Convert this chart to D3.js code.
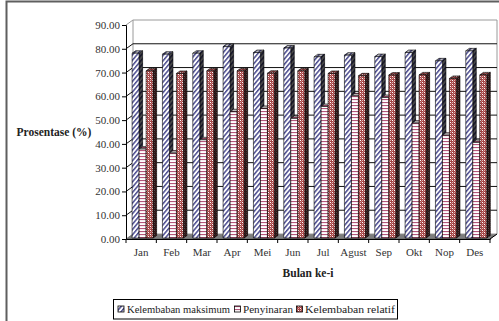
<!DOCTYPE html>
<html><head><meta charset="utf-8">
<script src="https://cdn.jsdelivr.net/npm/d3@7"></script>
<style>
html,body{margin:0;padding:0;background:#fff;}
svg{display:block;font-family:"Liberation Serif","Times New Roman",serif;}
</style></head>
<body>
<svg id="chart" width="499" height="321"></svg>
<script>
const months = ["Jan","Feb","Mar","Apr","Mei","Jun","Jul","Agust","Sep","Okt","Nop","Des"];
const seriesNames = ["Kelembaban maksimum","Penyinaran","Kelembaban relatif"];
const kelembabanMaksimum = [77.7,77.3,77.7,80.5,78.0,79.9,76.2,76.9,76.3,78.0,74.5,78.7];
const penyinaran = [37.4,35.7,41.3,53.1,54.5,50.3,55.3,59.8,59.1,48.3,43.2,40.2];
const kelembabanRelatif = [70.3,69.2,70.3,70.3,69.3,70.3,69.2,68.2,68.5,68.6,67.1,68.6];
const yTicks = [0,10,20,30,40,50,60,70,80,90];

const seriesValues = [kelembabanMaksimum, penyinaran, kelembabanRelatif];
const svg = d3.select("#chart");
const defs = svg.append("defs");

// patterns
const pBlue = defs.append("pattern").attr("id","pBlue").attr("patternUnits","userSpaceOnUse")
  .attr("width",3.4).attr("height",3.4).attr("patternTransform","rotate(40)");
pBlue.append("rect").attr("width",3.4).attr("height",3.4).attr("fill","#fff");
pBlue.append("rect").attr("width",1.5).attr("height",3.4).attr("fill","#4a4a8e");

const pPink = defs.append("pattern").attr("id","pPink").attr("patternUnits","userSpaceOnUse")
  .attr("width",4).attr("height",3);
pPink.append("rect").attr("width",4).attr("height",3).attr("fill","#fff");
pPink.append("rect").attr("width",4).attr("height",1.1).attr("fill","#b4557a");

const pBrown = defs.append("pattern").attr("id","pBrown").attr("patternUnits","userSpaceOnUse")
  .attr("width",4).attr("height",4);
pBrown.append("rect").attr("width",4).attr("height",4).attr("fill","#a34646");
[[0,0,"#fff"],[2,2,"#fff"],[2,0,"#e3b0b0"],[0,2,"#e3b0b0"],[1,1,"#c77878"],[3,3,"#c77878"]].forEach(([px,py,c])=>
  pBrown.append("rect").attr("x",px).attr("y",py).attr("width",1).attr("height",1).attr("fill",c));

const fills = ["url(#pBlue)","url(#pPink)","url(#pBrown)"];

// geometry
const x0 = 126, x1 = 490;
const x = d3.scaleBand().domain(months).range([x0, x1]);
const y = d3.scaleLinear().domain([0,90]).range([239,25]);
const DX = 7, DY = -5; // back wall depth offset
const P = (px,py,d)=>[px + d*DX, py + d*DY];
const step = x.step();
const inner = d3.scaleBand().domain(seriesNames).range([0.155*step, 0.155*step + 0.693*step]);
const dFront = 0.2, dBack = 0.7;
const pts = a=>a.map(p=>p.join(",")).join(" ");

// outer frame
svg.append("path").attr("d","M6.5,321 V1.5 H499").attr("fill","none").attr("stroke","#5f5f5f").attr("stroke-width",2);

// floor
svg.append("polygon").attr("points",pts([P(x0,y(0),0),P(x1,y(0),0),P(x1,y(0),1),P(x0,y(0),1)]))
  .attr("fill","#7d7d7d").attr("stroke","#555").attr("stroke-width",0.6);

// back wall
svg.append("polygon").attr("points",pts([P(x0,y(90),1),P(x1,y(90),1),P(x1,y(0),1),P(x0,y(0),1)]))
  .attr("fill","#fff").attr("stroke","#9a9a9a").attr("stroke-width",1);
svg.append("line").attr("x1",P(x0,y(90),1)[0]).attr("y1",P(x0,y(90),1)[1]).attr("x2",P(x0,y(90),0)[0]).attr("y2",P(x0,y(90),0)[1]).attr("stroke","#9a9a9a");

// gridlines
yTicks.filter(t=>t>0 && t<90).forEach(t=>{
  svg.append("polyline").attr("points",pts([P(x0,y(t),0),P(x0,y(t),1),P(x1,y(t),1)]))
    .attr("fill","none").attr("stroke","#111").attr("stroke-width",1);
});

// bars
const barsG = svg.append("g");
months.forEach((m,i)=>{
  seriesNames.forEach((s,j)=>{
    const v = seriesValues[j][i];
    const bx = x(m) + inner(s), w = inner.bandwidth();
    const yt = y(v), yb = y(0);
    const fl = P(bx,yb,dFront), fr = P(bx+w,yb,dFront), ftl = P(bx,yt,dFront), ftr = P(bx+w,yt,dFront);
    const br = P(bx+w,yb,dBack), btr = P(bx+w,yt,dBack), btl = P(bx,yt,dBack);
    const g = barsG.append("g");
    g.append("polygon").attr("points",pts([fr,br,btr,ftr])).attr("fill",fills[j]);
    g.append("polygon").attr("points",pts([fr,br,btr,ftr])).attr("fill","#000").attr("fill-opacity",0.72)
      .attr("stroke","#000").attr("stroke-width",0.6);
    g.append("polygon").attr("points",pts([ftl,ftr,btr,btl])).attr("fill",fills[j]);
    g.append("polygon").attr("points",pts([ftl,ftr,btr,btl])).attr("fill","#000").attr("fill-opacity",0.25)
      .attr("stroke","#000").attr("stroke-width",0.6);
    g.append("polygon").attr("points",pts([fl,fr,ftr,ftl])).attr("fill",fills[j])
      .attr("stroke","#000").attr("stroke-width",0.6);
  });
});

// axes
const yAxis = d3.axisLeft(y).tickValues(yTicks).tickFormat(d3.format(".2f")).tickSize(4).tickPadding(2);
const gy = svg.append("g").attr("transform",`translate(${x0},0)`).call(yAxis);
gy.select(".domain").attr("stroke","#000");
gy.selectAll(".tick line").attr("stroke","#000");
gy.selectAll("text").attr("font-family","Liberation Serif").attr("font-size",11).attr("fill","#333");

const xAxis = d3.axisBottom(x).tickSize(0).tickPadding(9);
const gx = svg.append("g").attr("transform",`translate(0,${y(0)})`).call(xAxis);
gx.select(".domain").attr("stroke","#000");
gx.selectAll("text").attr("font-family","Liberation Serif").attr("font-size",11).attr("fill","#333");
d3.range(months.length+1).forEach(k=>{
  const tx = x0 + k*step;
  gx.append("line").attr("x1",tx).attr("x2",tx).attr("y1",0).attr("y2",4).attr("stroke","#000");
});
svg.append("line").attr("x1",x1).attr("y1",y(0)).attr("x2",P(x1,y(0),1)[0]).attr("y2",P(x1,y(0),1)[1]).attr("stroke","#000");

// titles
svg.append("text").attr("x",54).attr("y",135.5).attr("text-anchor","middle")
  .attr("font-weight","bold").attr("font-size",11.5).attr("fill","#222").text("Prosentase (%)");
svg.append("text").attr("x",308).attr("y",277).attr("text-anchor","middle")
  .attr("font-weight","bold").attr("font-size",11.5).attr("fill","#222").text("Bulan ke-i");

// legend
const lg = svg.append("g");
lg.append("rect").attr("x",113.5).attr("y",299.5).attr("width",284).attr("height",19.5)
  .attr("fill","#fff").attr("stroke","#000").attr("stroke-width",1);
const legendX = [118, 234.5, 296.5];
const textX = [127, 243, 305];
const legendW = [103, 50, 90];
seriesNames.forEach((s,j)=>{
  lg.append("rect").attr("x",legendX[j]).attr("y",306).attr("width",6).attr("height",6)
    .attr("fill",fills[j]).attr("stroke","#000").attr("stroke-width",0.8);
  lg.append("text").attr("x",textX[j]).attr("y",313).attr("font-size",11).attr("fill","#222")
    .attr("textLength",legendW[j]).attr("lengthAdjust","spacingAndGlyphs").text(s);
});
</script>
</body></html>
